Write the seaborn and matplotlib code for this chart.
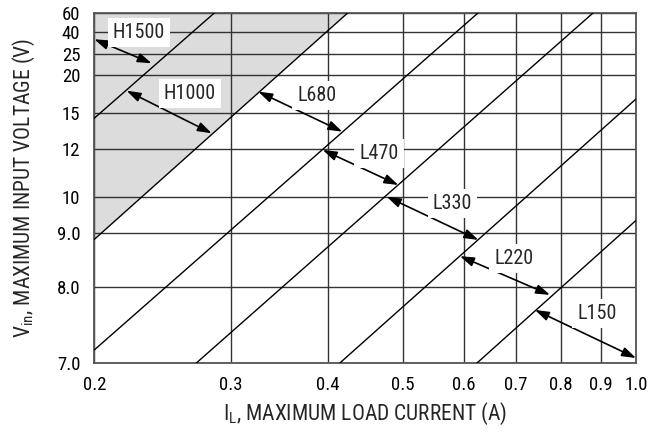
import numpy as np
import pandas as pd
import seaborn as sns
import matplotlib.pyplot as plt
from matplotlib.ticker import NullLocator

# axis ticks
x_ticks = [0.2, 0.3, 0.4, 0.5, 0.6, 0.7, 0.8, 0.9, 1.0]
x_labels = ['0.2', '0.3', '0.4', '0.5', '0.6', '0.7', '0.8', '0.9', '1.0']
y_ticks = [7, 8, 9, 10, 12, 15, 20, 25, 40, 60]
y_labels = ['7.0', '8.0', '9.0', '10', '12', '15', '20', '25', '40', '60']
# the voltage axis is not a plain log axis: share of axis height at each tick
y_axis_frac = [0, 0.2176, 0.3708, 0.4752, 0.6104, 0.7148, 0.8223, 0.8822, 0.9458, 1.0]

# region boundary lines, start and end points (load current A, input voltage V)
line_i0 = [0.2, 0.2, 0.2, 0.2706, 0.4145, 0.623]
line_v0 = [14.5, 8.88, 7.165, 7.0, 7.0, 7.0]
line_i1 = [0.286, 0.425, 0.626, 0.881, 1.0, 1.0]
line_v1 = [60, 60, 60, 60, 16.65, 9.34]

# inductor regions: label position and arrow end points
inductors = ['H1500', 'H1000', 'L680', 'L470', 'L330', 'L220', 'L150']
label_i = [0.2284, 0.2658, 0.3876, 0.4661, 0.5797, 0.6959, 0.8907]
label_v = [41.0, 17.63, 17.37, 11.9, 9.86, 8.56, 7.66]
arrow_i0 = [0.2, 0.2202, 0.3256, 0.3943, 0.4769, 0.5928, 0.7407]
arrow_v0 = [34.1, 17.74, 17.61, 11.97, 10.0, 8.56, 7.685]
arrow_i1 = [0.2372, 0.2835, 0.4179, 0.4936, 0.626, 0.7745, 1.0]
arrow_v1 = [22.65, 13.23, 13.36, 10.46, 8.87, 7.89, 7.065]

LOG_T = np.log(y_ticks)
FR = np.asarray(y_axis_frac)
S0 = (FR[1] - FR[0]) / (LOG_T[1] - LOG_T[0])
S1 = (FR[-1] - FR[-2]) / (LOG_T[-1] - LOG_T[-2])


def v_fwd(v):
    lv = np.log(np.clip(np.asarray(v, dtype=float), 1e-9, None))
    out = np.interp(lv, LOG_T, FR)
    out = np.where(lv < LOG_T[0], FR[0] + (lv - LOG_T[0]) * S0, out)
    out = np.where(lv > LOG_T[-1], FR[-1] + (lv - LOG_T[-1]) * S1, out)
    return out


def v_inv(t):
    t = np.asarray(t, dtype=float)
    lv = np.interp(t, FR, LOG_T)
    lv = np.where(t < FR[0], LOG_T[0] + (t - FR[0]) / S0, lv)
    lv = np.where(t > FR[-1], LOG_T[-1] + (t - FR[-1]) / S1, lv)
    return np.exp(lv)


sns.set_theme(style='white')
plt.rcParams['font.family'] = ['Roboto Condensed', 'DejaVu Sans']
plt.rcParams['mathtext.fontset'] = 'custom'
plt.rcParams['mathtext.rm'] = 'Roboto Condensed'

fig = plt.figure(figsize=(6.56, 4.33), dpi=100)
ax = fig.add_axes([0.1437, 0.1610, 0.8258, 0.8097])
ax.set_xscale('log')
ax.set_yscale('function', functions=(v_fwd, v_inv))

# shaded H-series region, left of the second boundary
ax.fill([line_i0[1], line_i1[1], line_i0[1]], [line_v0[1], line_v1[1], line_v1[1]],
        color='#dcdcdc', lw=0, zorder=0)

df = pd.DataFrame({
    'current': line_i0 + line_i1,
    'voltage': line_v0 + line_v1,
    'boundary': list(range(len(line_i0))) * 2,
})
sns.lineplot(data=df, x='current', y='voltage', units='boundary', estimator=None,
             color='black', lw=1.0, ax=ax, legend=False, zorder=3)

for k, name in enumerate(inductors):
    ax.annotate('', xy=(arrow_i1[k], arrow_v1[k]), xytext=(arrow_i0[k], arrow_v0[k]),
                arrowprops=dict(arrowstyle='<|-|>,head_length=0.6,head_width=0.2',
                                color='black', lw=1.2, shrinkA=0, shrinkB=0,
                                mutation_scale=14), zorder=4)
    ax.annotate(name, xy=(label_i[k], label_v[k]), xytext=(0, -1.5), textcoords='offset points',
                ha='center', va='center', fontsize=14.5,
                bbox=dict(boxstyle='square,pad=0.25', fc='white', ec='none'), zorder=5)

ax.set_xlim(0.2, 1.0)
ax.set_ylim(7, 60)
ax.set_xticks(x_ticks)
ax.set_xticklabels(x_labels)
ax.set_yticks(y_ticks)
ax.set_yticklabels(y_labels)
ax.xaxis.set_minor_locator(NullLocator())
ax.yaxis.set_minor_locator(NullLocator())
ax.tick_params(axis='both', length=0, labelsize=13.5, colors='black')
ax.tick_params(axis='x', pad=9)
ax.tick_params(axis='y', pad=10)
ax.grid(True, which='major', color='#333333', lw=1.0)
for sp in ax.spines.values():
    sp.set_color('#555555')
    sp.set_linewidth(1.3)

ax.set_xlabel(r'I$_{\mathrm{L}}$, MAXIMUM LOAD CURRENT (A)', fontsize=15.5, labelpad=5)
ax.set_ylabel(r'V$_{\mathrm{in}}$, MAXIMUM INPUT VOLTAGE (V)', fontsize=15.5, labelpad=14)

fig.savefig('out.png', dpi=100, facecolor='white')
